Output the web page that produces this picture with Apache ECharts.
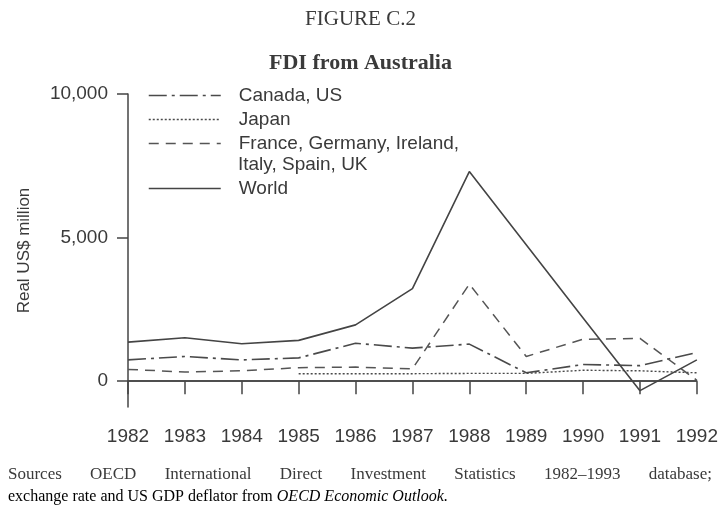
<!DOCTYPE html>
<html>
<head>
<meta charset="utf-8">
<script src="https://cdn.jsdelivr.net/npm/echarts@6/dist/echarts.min.js"></script>
<style>
  html, body { margin: 0; padding: 0; background: #fff; }
  #fig { width: 721px; height: 509px; }
</style>
</head>
<body>
<div id="fig"></div>
<script>
// years on the x axis
var years = ['1982', '1983', '1984', '1985', '1986', '1987', '1988', '1989', '1990', '1991', '1992'];
// real US$ million
var canadaUS = [740, 860, 740, 810, 1320, 1150, 1290, 290, 580, 540, 1000];
var japan    = [null, null, null, 260, 260, 260, 270, 270, 380, 360, 290];
var europe   = [410, 320, 360, 470, 490, 430, 3380, 860, 1460, 1490, 30];
var world    = [1360, 1510, 1300, 1420, 1960, 3220, 7300, 4750, 2200, -330, 740];
var yTicks   = [0, 5000, 10000];

var europeName = 'France, Germany, Ireland, Italy, Spain, UK';
var ink = '#3a3a3a';
var sans = '"Liberation Sans", Arial, sans-serif';
var serif = '"Liberation Serif", "Times New Roman", serif';

// justify the first source line across the page like the print does
var srcWords = ['Sources', 'OECD', 'International', 'Direct', 'Investment', 'Statistics', '1982\u20131993', 'database;'];
var ctx = document.createElement('canvas').getContext('2d');
ctx.font = '17px ' + serif;
var wordW = srcWords.map(function (w) { return ctx.measureText(w).width; });
var totalW = wordW.reduce(function (a, b) { return a + b; }, 0);
var gap = (712 - 8 - totalW) / (srcWords.length - 1);
var srcGraphics = [];
var cx = 8;
srcWords.forEach(function (w, i) {
    srcGraphics.push({
        type: 'text', x: cx, y: 475,
        style: { text: w, font: '17px ' + serif, fill: ink, verticalAlign: 'middle' }
    });
    cx += wordW[i] + gap;
});

var chart = echarts.init(document.getElementById('fig'));

var legendBase = {
    orient: 'vertical',
    left: 148,
    padding: 0,
    itemWidth: 72, itemHeight: 10, itemGap: 5,
    itemStyle: { opacity: 0 },
    lineStyle: { width: 1.5 },
    textStyle: { fontFamily: sans, fontSize: 19, color: ink, padding: [0, 0, 0, 13] },
    selectedMode: false
};

var option = {
    backgroundColor: '#fff',
    animation: false,
    title: [{
        text: 'FIGURE C.2',
        left: 'center', top: 4,
        textStyle: { fontFamily: serif, fontSize: 21, fontWeight: 'normal', color: ink }
    }, {
        text: 'FDI from Australia',
        left: 'center', top: 47,
        textStyle: { fontFamily: serif, fontSize: 22, fontWeight: 'bold', color: ink }
    }],
    legend: [
        echarts.util.extend({
            data: ['Canada, US', 'Japan', europeName],
            top: 86,
            formatter: function (name) {
                return name === europeName ? 'France, Germany, Ireland,' : name;
            }
        }, legendBase),
        echarts.util.extend({
            data: ['World'],
            top: 179
        }, legendBase)
    ],
    grid: { left: 128, right: 23, top: 94, bottom: 102 },
    xAxis: {
        type: 'category',
        data: years,
        boundaryGap: false,
        axisLine: { lineStyle: { color: '#444', width: 1.5 } },
        axisTick: { show: true, length: 13, interval: 0, lineStyle: { color: '#444', width: 1.5 } },
        axisLabel: { interval: 0, margin: 20, fontFamily: sans, fontSize: 19, color: ink },
        splitLine: { show: false }
    },
    yAxis: {
        type: 'value',
        min: -900, max: 10000,
        name: 'Real US$ million',
        nameLocation: 'middle',
        nameRotate: 90,
        nameGap: 95,
        nameTextStyle: { fontFamily: sans, fontSize: 17, color: ink },
        axisLine: { show: true, lineStyle: { color: '#444', width: 1.5 } },
        axisTick: { show: true, length: 11, customValues: yTicks, lineStyle: { color: '#444', width: 1.5 } },
        axisLabel: {
            customValues: yTicks, margin: 20,
            fontFamily: sans, fontSize: 19, color: ink,
            formatter: function (v) { return echarts.format.addCommas(v); }
        },
        splitLine: { show: false }
    },
    graphic: srcGraphics.concat([{
        type: 'text', x: 238, y: 165,
        style: { text: 'Italy, Spain, UK', font: '19px ' + sans, fill: ink, verticalAlign: 'middle' }
    }, {
        type: 'text', x: 8, y: 497,
        style: {
            text: '{n|exchange rate and US GDP deflator from }{i|OECD Economic Outlook.}',
            verticalAlign: 'middle',
            rich: {
                n: { fontFamily: serif, fontSize: 16, color: ink },
                i: { fontFamily: serif, fontSize: 16, fontStyle: 'italic', color: ink }
            }
        }
    }]),
    series: [{
        name: 'Canada, US',
        type: 'line',
        data: canadaUS,
        symbol: 'none',
        lineStyle: { color: '#4a4a4a', width: 1.6, type: [18, 5, 3, 5] },
        markLine: {
            silent: true,
            symbol: 'none',
            label: { show: false },
            lineStyle: { color: '#444', width: 1.5, type: 'solid' },
            data: [{ yAxis: 0 }]
        }
    }, {
        name: 'Japan',
        type: 'line',
        data: japan,
        symbol: 'none',
        lineStyle: { color: '#4a4a4a', width: 1.4, type: [2, 2] }
    }, {
        name: europeName,
        type: 'line',
        data: europe,
        symbol: 'none',
        lineStyle: { color: '#555', width: 1.5, type: [10, 7] }
    }, {
        name: 'World',
        type: 'line',
        data: world,
        symbol: 'none',
        lineStyle: { color: '#444', width: 1.6 }
    }]
};

chart.setOption(option);
</script>
</body>
</html>
